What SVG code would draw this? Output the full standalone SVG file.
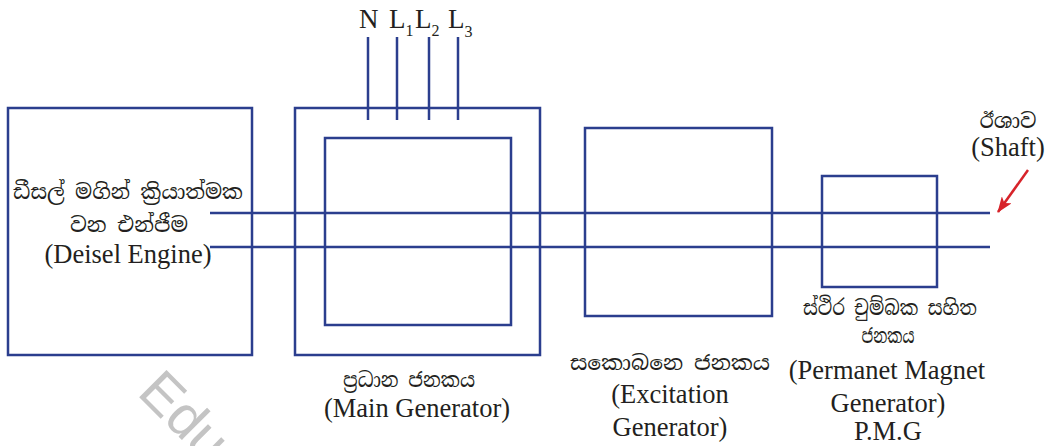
<svg xmlns="http://www.w3.org/2000/svg" width="1050" height="446" viewBox="0 0 1050 446">
<defs>
<style>
.box{fill:none;stroke:#2b3e8e;stroke-width:2.5}
.ln{stroke:#2b3e8e;stroke-width:2.5;fill:none}
.en{font-family:"Liberation Serif","Times New Roman",serif;font-size:26.5px;fill:#231f20;text-anchor:middle}
.top{font-family:"Liberation Serif","Times New Roman",serif;font-size:27px;fill:#231f20}
.si{font-family:"Noto Serif Sinhala","Noto Sans Sinhala","Noto Sans",sans-serif;font-size:21px;fill:#231f20;text-anchor:middle}
.sub{font-size:16px}
</style>
<marker id="ah" markerWidth="16" markerHeight="12" refX="15" refY="6" orient="auto" markerUnits="userSpaceOnUse">
<path d="M0,0 L16,6 L0,12 L4,6 Z" fill="#d7232a"/>
</marker>
</defs>
<rect width="1050" height="446" fill="#ffffff"/>
<text x="136" y="394" transform="rotate(45 136 394)" font-family="Liberation Sans,sans-serif" font-size="56" fill="#c4c4c4">Edu</text>
<g id="connectors">
<line class="ln" x1="210" y1="213" x2="990" y2="213"/>
<line class="ln" x1="210" y1="247" x2="990" y2="247"/>
<line class="ln" x1="368" y1="37" x2="368" y2="120"/>
<line class="ln" x1="397" y1="37" x2="397" y2="120"/>
<line class="ln" x1="429" y1="37" x2="429" y2="120"/>
<line class="ln" x1="458" y1="37" x2="458" y2="120"/>
<line x1="1028" y1="170" x2="998" y2="212" stroke="#d7232a" stroke-width="2.5" marker-end="url(#ah)"/>
</g>
<g id="diesel-engine">
<rect class="box" x="8" y="108" width="244" height="247"/>
<text class="si" x="128" y="199" textLength="230" lengthAdjust="spacingAndGlyphs">ඩීසල් මගින් ක්‍රියාත්මක</text>
<text class="si" x="129" y="232" textLength="118" lengthAdjust="spacingAndGlyphs">වන එන්ජීම</text>
<text class="en" x="128" y="263">(Deisel Engine)</text>
</g>
<g id="main-generator">
<rect class="box" x="295" y="108" width="245" height="247"/>
<rect class="box" x="325" y="138" width="186" height="187"/>
<text class="top" x="359" y="28">N</text>
<text class="top" x="389" y="28">L<tspan class="sub" dy="8">1</tspan></text>
<text class="top" x="415" y="28">L<tspan class="sub" dy="8">2</tspan></text>
<text class="top" x="448" y="28">L<tspan class="sub" dy="9">3</tspan></text>
<text class="si" x="409" y="387" textLength="132" lengthAdjust="spacingAndGlyphs">ප්‍රධාන ජනකය</text>
<text class="en" x="417" y="417">(Main Generator)</text>
</g>
<g id="excitation-generator">
<rect class="box" x="585" y="128" width="187" height="188"/>
<text class="si" x="670" y="370" textLength="200" lengthAdjust="spacingAndGlyphs">සකොබනෙ ජනකය</text>
<text class="en" x="670" y="403">(Excitation</text>
<text class="en" x="670" y="436">Generator)</text>
</g>
<g id="pmg">
<rect class="box" x="822" y="176" width="115" height="111"/>
<text class="si" x="890" y="315" textLength="174" lengthAdjust="spacingAndGlyphs">ස්ථිර චුම්බක සහිත</text>
<text class="si" x="888" y="343" textLength="53" lengthAdjust="spacingAndGlyphs">ජනකය</text>
<text class="en" x="887" y="379">(Permanet Magnet</text>
<text class="en" x="888" y="412">Generator)</text>
<text class="en" x="888" y="440">P.M.G</text>
</g>
<g id="shaft">
<text class="si" x="1008" y="128" textLength="57" lengthAdjust="spacingAndGlyphs">ඊශාව</text>
<text class="en" x="1008" y="156">(Shaft)</text>
</g>
</svg>
